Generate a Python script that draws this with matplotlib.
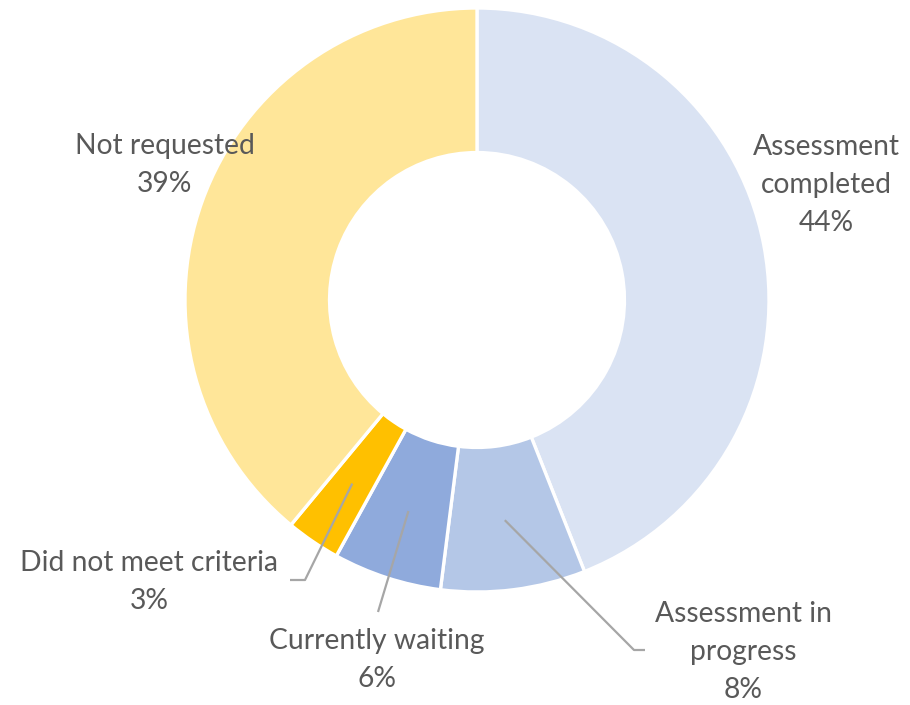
import matplotlib
matplotlib.use("Agg")
import matplotlib.pyplot as plt
import numpy as np

categories = ["Assessment completed", "Assessment in progress", "Currently waiting",
              "Did not meet criteria", "Not requested"]
values = [44, 8, 6, 3, 39]
label_texts = ["Assessment\ncompleted\n44%", "Assessment in\nprogress\n8%", "Currently waiting\n6%",
               "Did not meet criteria\n3%", "Not requested\n39%"]
colors = ["#DAE3F3", "#B4C7E7", "#8FAADC", "#FFC000", "#FFE699"]

W, H = 910, 705
fig = plt.figure(figsize=(W / 100, H / 100), dpi=100)
ax = fig.add_axes([0, 0, 1, 1])

cx, cy = 477, H - 300
R = 292
ring = 0.495

wedges, _ = ax.pie(values, colors=colors, startangle=90, counterclock=False,
                   radius=R, center=(cx, cy),
                   wedgeprops=dict(width=R * ring, edgecolor="white", linewidth=2.4))
ax.set_xlim(0, W)
ax.set_ylim(0, H)
ax.set_aspect("equal")
ax.axis("off")

txt_color = "#595959"
line_color = "#A6A6A6"
fs = 20.3
family = ["Lato", "DejaVu Sans"]

# label centers (pixels from top-left)
label_pos = [(826, 185), (743, 652), (377, 660), (149, 582), (165, 165)]
# leader line elbows (None = no leader)
leaders = [None, [(634, 650), (645, 650)], [(378, 612)], [(305, 580), (290, 580)], None]

cum = np.cumsum([0] + values)
total = sum(values)
for i, w in enumerate(wedges):
    lx, ly = label_pos[i]
    ax.text(lx, H - ly, label_texts[i], ha="center", va="center", fontsize=fs,
            color=txt_color, family=family, linespacing=1.55)
    if leaders[i] is not None:
        mid = (cum[i] + values[i] / 2) / total * 2 * np.pi
        r0 = R * 0.76
        sx = cx + r0 * np.sin(mid)
        sy = cy + r0 * np.cos(mid)
        pts = [(sx, sy)] + [(px, H - py) for px, py in leaders[i]]
        xs, ys = zip(*pts)
        ax.plot(xs, ys, color=line_color, lw=1.6, solid_capstyle="butt")

fig.savefig("out.png", dpi=100)
